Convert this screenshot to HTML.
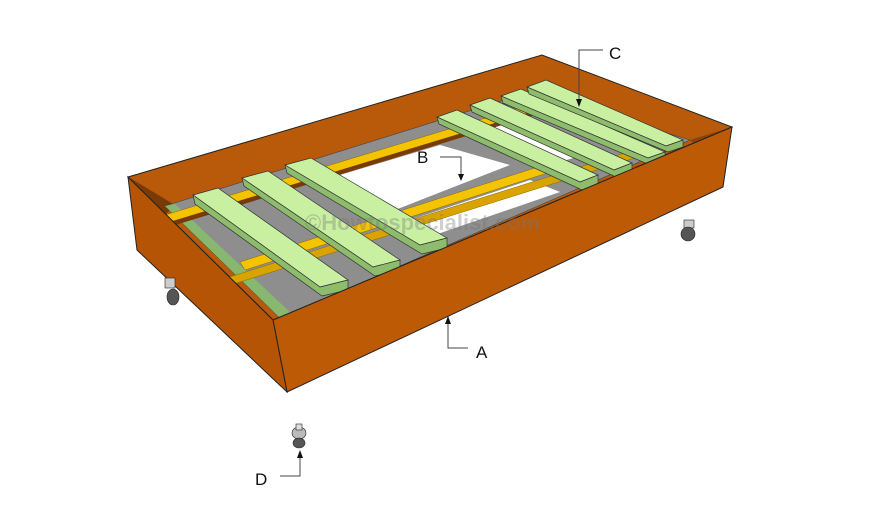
<!DOCTYPE html>
<html><head><meta charset="utf-8"><style>body{margin:0;background:#fff}svg{display:block}</style></head><body>
<svg width="870" height="513" viewBox="0 0 870 513" xmlns="http://www.w3.org/2000/svg" font-family="Liberation Sans, sans-serif">
<defs><marker id="ar" markerWidth="8" markerHeight="8" refX="4" refY="0" orient="auto" markerUnits="userSpaceOnUse"></marker></defs>
<!-- inner walls top -->
<polygon points="128,177 542,55 732,127 273,320" fill="#b85a0a" stroke="#222" stroke-width="1"/>
<!-- left inner shadow -->
<polygon points="130,178 175,205 165,215" fill="#7a3a08"/>
<polygon points="690,140 732,127 700,150" fill="#8a4308"/>
<!-- floor -->
<polygon points="165,206 530,92 690,140 280,318" fill="#8e8e8e" stroke="#444" stroke-width="0.6"/>
<polygon points="165,206 175,204 292,314 280,318" fill="#88b870"/>
<!-- white openings -->
<polygon points="330,178 440,145 510,165 395,210" fill="#fff"/>
<polygon points="470,128 520,112 600,150 560,162" fill="#fff"/>
<polygon points="395,225 530,180 560,192 420,240" fill="#fff"/>
<!-- rails -->
<polygon points="165,215 545,100 548,107 170,222" fill="#f5c400" stroke="#8a6a00" stroke-width="0.5"/>
<polygon points="170,222 548,107 548,111 172,226" fill="#7a3a08"/>
<polygon points="240,262 560,160 563,168 245,270" fill="#f5c400" stroke="#8a6a00" stroke-width="0.5"/>
<polygon points="330,240 620,150 623,155 333,246" fill="#e0a800" opacity="0"/>
<polygon points="220,280 650,145 654,152 224,287" fill="#d9a300" stroke="#8a6a00" stroke-width="0.5"/>
<!-- slats -->
<g stroke="#333" stroke-width="0.7">
<polygon points="193,195 218,188 348,280 320,287" fill="#c8f0a0"/>
<polygon points="320,287 348,280 348,290 322,296 195,204 193,195" fill="#8cbc6c"/>
<polygon points="242,178 268,171 400,260 373,267" fill="#c8f0a0"/>
<polygon points="373,267 400,260 400,270 375,276 244,186 242,178" fill="#8cbc6c"/>
<polygon points="285,165 311,158 447,238 420,245" fill="#c8f0a0"/>
<polygon points="420,245 447,238 447,248 422,254 287,173 285,165" fill="#8cbc6c"/>
<polygon points="437,117 457,110 598,175 580,182" fill="#c8f0a0"/>
<polygon points="580,182 598,175 598,184 582,190 439,124 437,117" fill="#8cbc6c"/>
<polygon points="470,105 490,98 632,163 614,170" fill="#c8f0a0"/>
<polygon points="614,170 632,163 632,171 616,177 472,112 470,105" fill="#8cbc6c"/>
<polygon points="501,96 521,89 665,152 648,158" fill="#c8f0a0"/>
<polygon points="648,158 665,152 665,160 650,165 503,103 501,96" fill="#8cbc6c"/>
<polygon points="527,87 546,80 683,140 666,146" fill="#c8f0a0"/>
<polygon points="666,146 683,140 683,147 668,152 529,94 527,87" fill="#8cbc6c"/>
</g>
<!-- front + left faces -->
<polygon points="273,320 732,127 723,187 287,392" fill="#bd5a05" stroke="#222" stroke-width="1"/>
<polygon points="128,177 273,320 287,392 137,250" fill="#b65405" stroke="#222" stroke-width="1"/>
<text x="305" y="230" font-size="22" font-weight="bold" fill="#777" opacity="0.35">©Howtospecialist.com</text>
<!-- casters -->
<g fill="#555" stroke="#222" stroke-width="0.6">
<rect x="165" y="278" width="10" height="10" fill="#ccc"/><ellipse cx="173" cy="297" rx="6" ry="8"/>
<rect x="684" y="220" width="10" height="8" fill="#ccc"/><ellipse cx="688" cy="234" rx="7" ry="7"/>
<ellipse cx="299" cy="433" rx="7" ry="6" fill="#bbb"/><rect x="296" y="424" width="6" height="6" fill="#ddd"/><ellipse cx="299" cy="443" rx="6" ry="5"/>
</g>
<!-- leaders -->
<g stroke="#444" stroke-width="1" fill="none">
<polyline points="448,320 448,348 468,348"/>
<polyline points="440,157 461,157 461,176"/>
<polyline points="603,50 579,50 579,102"/>
<polyline points="280,476 300,476 300,452"/>
</g>
<g fill="#111">
<polygon points="448,316 445,324 451,324"/>
<polygon points="461,181 458,174 464,174"/>
<polygon points="579,107 576,99 582,99"/>
<polygon points="300,450 297,458 303,458"/>
</g>
<g font-size="17" fill="#111">
<text x="476" y="358">A</text>
<text x="417" y="163">B</text>
<text x="609" y="59">C</text>
<text x="255" y="485">D</text>
</g>
</svg>
</body></html>
